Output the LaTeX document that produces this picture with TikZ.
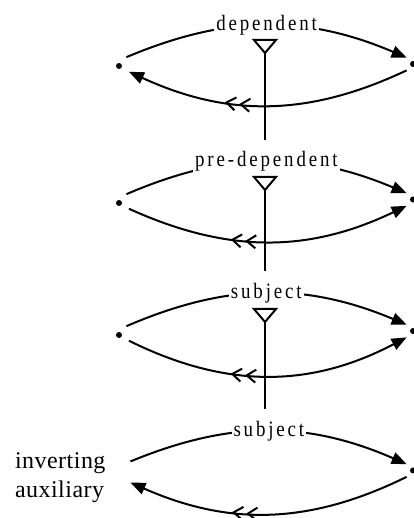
\documentclass[tikz,border=0pt]{standalone}
\usepackage{fontspec}
\setmainfont{Liberation Serif}
\usetikzlibrary{arrows.meta,decorations.markings}

\begin{document}
\begin{tikzpicture}[
  x=1pt, y=1pt,
  dot/.style={circle, fill, inner sep=0pt, minimum size=6pt, outer sep=8.5pt},
  rdot/.style={dot, outer sep=6pt},
  link/.style={line width=2pt},
  arr/.style={link, -{Triangle[length=15pt, width=12pt]}},
  lbl/.style={fill=white, inner xsep=2pt, inner ysep=1pt,
              font=\fontsize{22}{25}\selectfont\addfontfeature{FakeStretch=0.86,LetterSpace=13}},
  aux/.style={align=left, inner sep=0pt, outer xsep=25pt, outer ysep=0pt,
              font=\fontsize{24}{29}\selectfont\addfontfeature{LetterSpace=2}},
  tri/.style={link, line join=miter},
  stem/.style={link, shorten >=10pt},
  chev/.style n args={2}{postaction={decorate}, decoration={markings,
      mark=at position #1 with {\arrow{Straight Barb[length=9pt, width=13pt]}},
      mark=at position #2 with {\arrow{Straight Barb[length=9pt, width=13pt]}}}},
  chevrev/.style n args={2}{postaction={decorate}, decoration={markings,
      mark=at position #1 with {\arrowreversed{Straight Barb[length=9pt, width=13pt]}},
      mark=at position #2 with {\arrowreversed{Straight Barb[length=9pt, width=13pt]}}}}
]
  \useasboundingbox (0,0) rectangle (413,518);

  \node[dot] (l1) at (119,452) {};
  \node[rdot] (r1) at (413,454) {};
  \node[dot] (l2) at (119,315) {};
  \node[rdot] (r2) at (413,318.5) {};
  \node[dot] (l3) at (119,183) {};
  \node[rdot] (r3) at (413,187) {};
  \node[aux, anchor=north west] (aux) at (-10,65.4) {inverting\\auxiliary};
  \node[rdot] (r4) at (413,47.5) {};

  \draw[arr] (l1.50) to[bend left=23] node[lbl] (dep) {dependent} (r1.135);
  \draw[arr, chev={0.60}{0.65}] (r1.-135) to[bend left=25] (l1.-30);

  \draw[arr] (l2.50) to[bend left=23] node[lbl] (predep) {pre-dependent} (r2.135);
  \draw[arr, chevrev={0.37}{0.42}] (l2.-30) to[bend right=25] (r2.-135);

  \draw[arr] (l3.50) to[bend left=23] node[lbl] (subj) {subject} (r3.135);
  \draw[arr, chevrev={0.37}{0.42}] (l3.-30) to[bend right=27] (r3.-135);

  \draw[arr] (aux.13) to[bend left=23] node[lbl] (subjinv) {subject} (r4.135);
  \draw[arr, chev={0.58}{0.63}] (r4.-135) to[bend left=25] (aux.-4);

  \coordinate (v1) at (265,465);
  \coordinate (v2) at (265,328);
  \coordinate (v3) at (265,196);
  \draw[tri] (v1) -- ++(-11,13) -- ++(22,0) -- cycle;
  \draw[tri] (v2) -- ++(-11,13) -- ++(22,0) -- cycle;
  \draw[tri] (v3) -- ++(-11,13) -- ++(22,0) -- cycle;

  \draw[stem] (v1) -- (v1 |- predep.north);
  \draw[stem] (v2) -- (v2 |- subj.north);
  \draw[stem] (v3) -- (v3 |- subjinv.north);
\end{tikzpicture}
\end{document}
